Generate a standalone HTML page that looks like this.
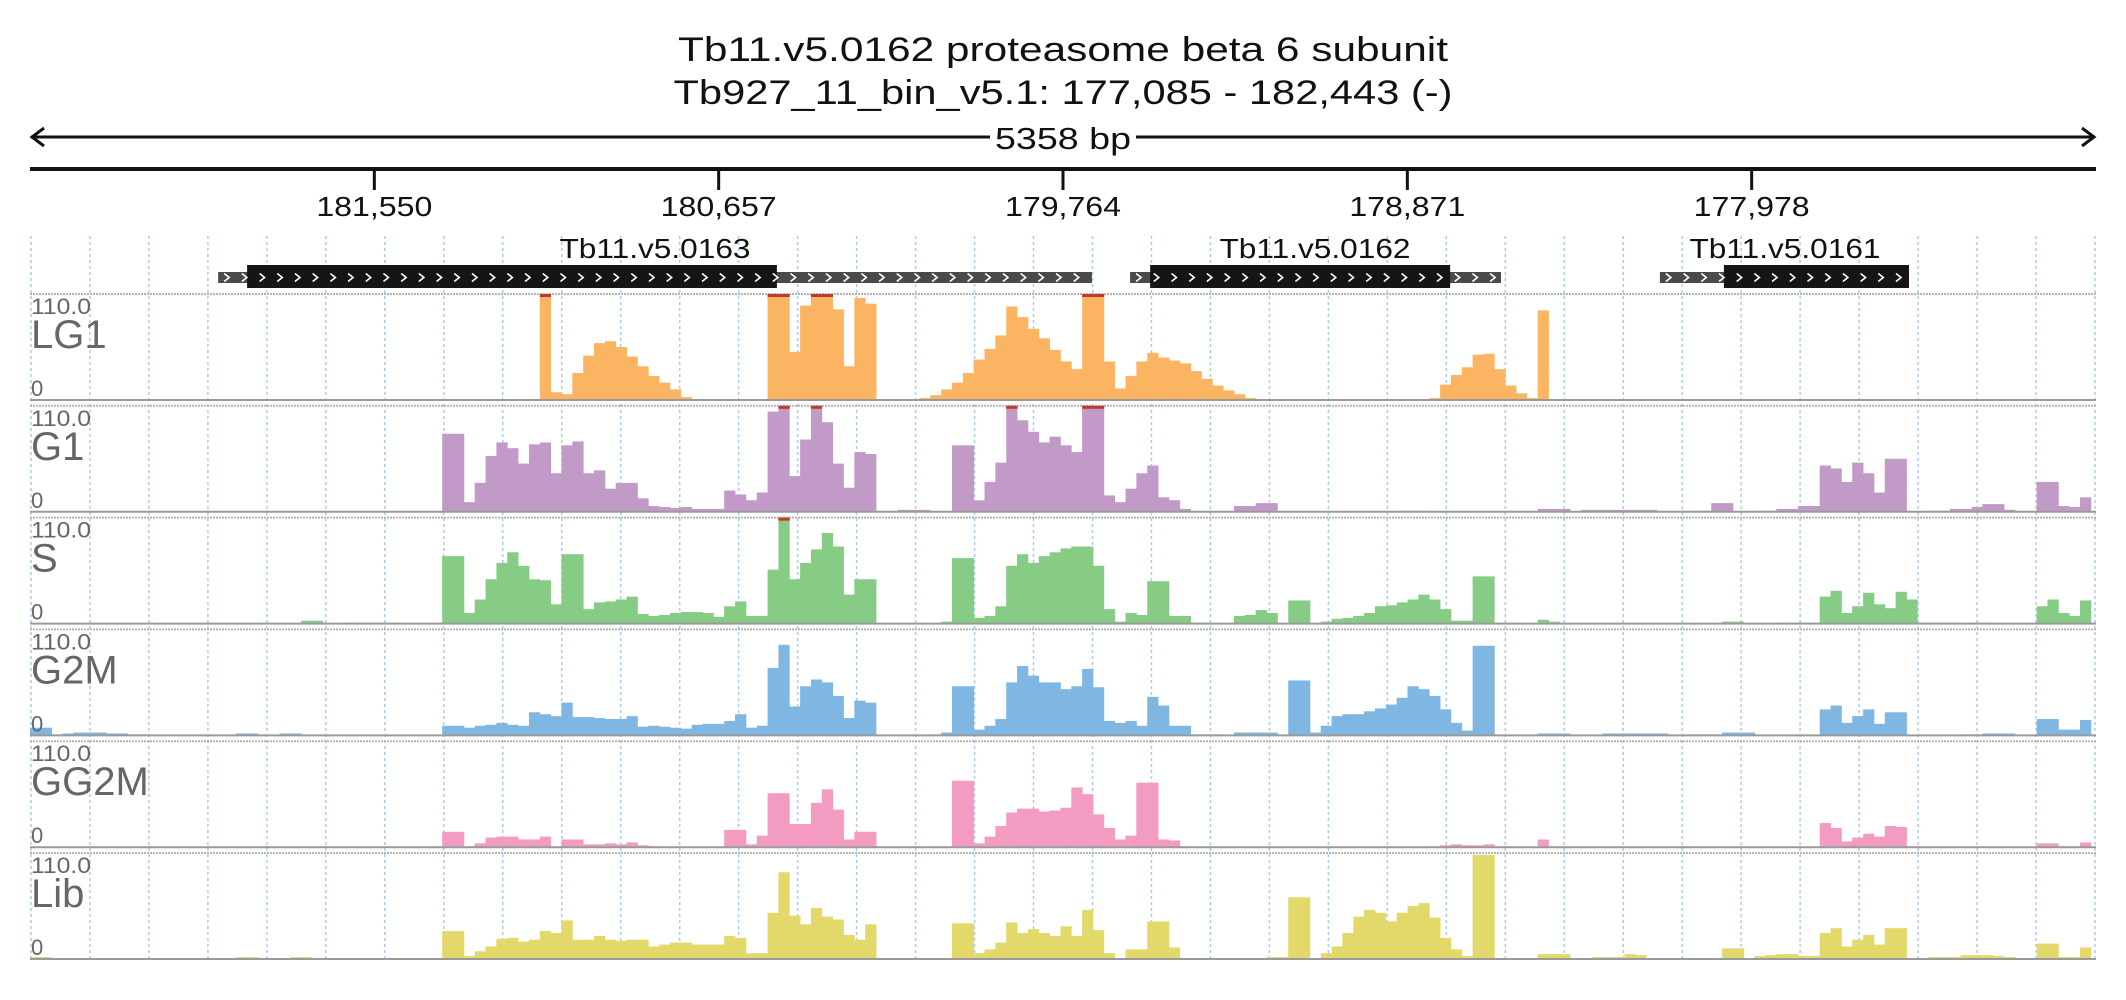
<!DOCTYPE html>
<html><head><meta charset="utf-8"><title>Tb11.v5.0162 coverage</title>
<style>
html,body{margin:0;padding:0;background:#fff;}
svg{display:block;font-family:"Liberation Sans",sans-serif;}
</style></head>
<body>
<svg id="chart" width="2126" height="1000" viewBox="0 0 2126 1000" xmlns="http://www.w3.org/2000/svg">
  <rect x="0" y="0" width="2126" height="1000" fill="#fff"/>
  <text x="1063" y="61" text-anchor="middle" font-size="34" textLength="770" lengthAdjust="spacingAndGlyphs" fill="#111">Tb11.v5.0162  proteasome beta 6 subunit</text>
  <text x="1063" y="104" text-anchor="middle" font-size="34" textLength="779" lengthAdjust="spacingAndGlyphs" fill="#111">Tb927_11_bin_v5.1: 177,085 - 182,443 (-)</text>
  <g>
    <line x1="31" y1="137" x2="2095" y2="137" stroke="#111" stroke-width="3"/>
    <polyline points="44,128 32,137 44,146" fill="none" stroke="#111" stroke-width="3"/>
    <polyline points="2082,128 2094,137 2082,146" fill="none" stroke="#111" stroke-width="3"/>
    <rect x="990" y="120" width="146" height="36" fill="#fff"/>
    <text x="1063" y="149" text-anchor="middle" font-size="31" textLength="136" lengthAdjust="spacingAndGlyphs" fill="#111">5358 bp</text>
  </g>
  <g id="axis"></g>
  <g id="grid"></g>
  <g id="genes"></g>
  <g id="tracks"></g>
</svg>
<script>
// ---- data ----
const winStart = 177085;
const winEnd = 182443;
const binBp = 28.13;
const tickBp = [181550, 180657, 179764, 178871, 177978];
const tickLabels = ["181,550", "180,657", "179,764", "178,871", "177,978"];
const trackNames = ["LG1", "G1", "S", "G2M", "GG2M", "Lib"];
const trackColors = ["#fbb562", "#c29ac8", "#86cc85", "#80b7e2", "#f49bc2", "#e3d96b"];
const yMax = 110;
const geneNames = ["Tb11.v5.0163", "Tb11.v5.0162", "Tb11.v5.0161"];
const geneStart = [181955, 179590, 178216];
const geneEnd = [179689, 178628, 177570];
const cdsStart = [181880, 179538, 178050];
const cdsEnd = [180506, 178760, 177570];

const lg1 = [
0,0,0,0,0,0,0,0,0,0, 0,0,0,0,0,0,0,0,0,0, 0,0,0,0,0,0,0,0,0,0, 0,0,0,0,0,0,0,0,0,0,
0,0,0,0,0,0,0,110,8,6, 28,46,59,61,55,45,35,25,18,11, 3,1,1,0,0,1,1,1,110,110,
50,98,110,110,94,35,106,100,0,0, 0,0,2,5,11,18,28,42,53,67, 97,86,74,64,52,40,32,110,110,40,
12,25,40,49,44,41,38,30,22,15, 10,6,2,1,0,0,0,0,0,0, 0,0,0,0,0,0,0,0,0,2,
16,26,34,47,48,32,15,7,2,93, 0,0,0,0,0,0,0,0,0,0, 0,0,0,0,0,0,0,0,0,0,
0,0,0,0,0,0,0,0,0,0, 0,0,0,0,0,0,0,0,0,0, 0,0,0,0,0,0,0,0,0,0];
const g1 = [
0,0,0,0,0,0,0,0,0,0, 0,0,0,0,0,0,0,0,0,0, 0,0,0,0,0,0,0,0,0,0, 0,0,0,0,0,0,0,0,81,81,
10,30,58,72,66,50,70,72,40,69, 73,40,43,24,30,30,14,6,5,4, 5,3,3,3,22,18,12,20,104,110,
37,75,110,93,50,25,62,60,0,0, 2,2,2,0,0,69,69,12,31,51, 110,95,83,72,78,69,62,110,110,17,
10,24,40,48,15,12,3,0,0,0, 0,6,6,9,9,0,0,0,0,0, 0,0,0,0,0,0,1,1,1,0,
0,0,0,0,0,0,0,0,0,3, 3,3,0,2,2,2,2,2,2,2, 0,0,1,1,1,9,9,0,0,1,
1,3,3,6,6,48,45,31,51,40, 20,55,55,0,0,1,1,3,3,5, 8,8,2,0,0,31,31,6,5,15];
const sPhase = [
0,0,0,0,0,0,0,0,0,0, 0,0,0,0,0,0,0,0,0,0, 0,0,0,0,0,3,3,0,0,1, 1,1,1,1,0,0,0,0,70,70,
11,25,46,63,74,60,46,45,20,72, 72,15,22,23,25,28,10,8,9,11, 12,12,11,7,18,23,8,8,56,110,
46,63,77,94,80,30,46,46,0,0, 0,0,0,0,2,68,68,6,8,18, 60,72,63,70,74,78,80,80,60,15,
2,11,9,44,44,8,8,1,1,0, 0,8,9,14,11,0,24,24,0,2, 5,6,8,11,18,19,22,25,30,25,
15,3,3,49,49,1,1,0,0,4, 2,0,0,0,0,0,0,0,0,0, 0,0,0,0,0,0,2,2,0,0,
0,1,1,1,1,28,34,11,18,32, 20,16,33,25,1,1,1,1,0,1, 1,0,0,0,0,18,25,11,8,24];
const g2m = [
8,8,1,2,3,3,3,2,2,1, 1,0,0,0,0,0,0,0,0,2, 2,0,0,2,2,0,0,0,0,0, 0,0,0,0,0,0,0,0,10,10,
8,10,11,13,11,10,24,22,20,34, 19,19,18,17,17,20,9,10,9,8, 7,11,12,12,15,22,8,10,70,94,
30,51,58,55,41,18,36,34,0,0, 0,0,0,1,3,51,51,6,10,17, 55,72,62,55,55,48,51,69,50,15,
13,15,10,40,31,10,10,1,1,1, 0,3,3,3,3,0,57,57,3,10, 20,22,22,25,28,32,39,51,48,41,
27,13,5,93,93,0,0,0,0,2, 2,2,0,0,0,2,2,2,2,2, 2,0,0,1,1,1,3,3,3,0,
0,0,0,0,0,27,31,13,20,27, 12,24,24,0,0,0,0,0,1,1, 2,2,2,0,0,17,17,6,6,16];
const gg2m = [
0,0,0,0,0,0,0,0,0,0, 0,0,0,0,0,0,0,0,0,0, 0,0,0,0,0,0,0,0,0,0, 0,0,0,0,0,0,0,0,16,16,
1,4,10,11,11,8,8,11,1,8, 8,3,3,4,3,5,2,1,0,0, 0,0,0,0,18,18,3,12,56,56,
24,24,46,60,39,8,16,16,0,0, 0,0,0,1,1,69,69,4,11,22, 36,40,40,37,38,41,62,55,34,20,
8,12,67,67,8,7,1,0,0,0, 0,0,0,0,0,0,0,0,0,0, 0,0,0,0,0,0,0,0,0,1,
2,3,2,2,3,1,0,0,0,8, 0,0,0,0,0,0,0,0,0,0, 0,0,0,0,0,0,0,0,0,0,
0,0,0,0,0,25,20,6,10,14, 11,22,21,0,0,0,0,0,0,0, 0,0,0,0,0,4,4,1,1,5];
const lib = [
2,2,0,0,0,0,0,1,1,1, 1,1,0,0,0,0,0,0,0,2, 2,0,0,0,2,2,0,0,0,0, 0,0,0,0,0,0,0,0,29,29,
3,8,13,21,22,18,20,29,27,40, 20,20,24,20,19,20,20,13,15,17, 17,15,15,15,24,22,6,6,48,90,
45,36,53,44,41,25,20,36,1,1, 1,1,1,1,1,37,37,6,10,17, 38,27,31,27,24,34,24,51,30,6,
1,10,10,39,39,12,1,1,1,1, 0,1,1,1,2,2,64,64,1,6, 13,27,44,51,48,39,48,55,58,43,
22,10,3,108,108,0,0,0,0,5, 5,5,0,0,2,2,2,5,4,1, 0,0,0,0,0,0,11,11,1,3,
4,5,5,3,3,27,32,13,20,25, 15,32,32,0,0,2,2,2,4,4, 4,3,2,0,0,16,16,2,2,12];
const trackValues = [lg1, g1, sPhase, g2m, gg2m, lib];

// ---- layout ----
const NS = "http://www.w3.org/2000/svg";
const plotL = 30, plotR = 2096;
function xScale(bp) { return plotL + (winEnd - bp) / (winEnd - winStart) * (plotR - plotL); }
const trackTop0 = 294, trackPitch = 111.8, trackH = 106;
function mk(tag, attrs, parent) {
  const e = document.createElementNS(NS, tag);
  for (const k in attrs) e.setAttribute(k, attrs[k]);
  parent.appendChild(e);
  return e;
}

// axis
const axis = document.getElementById('axis');
const axisLine = mk('line', {x1: plotL, y1: 169, x2: plotR, y2: 169, stroke: '#111', 'stroke-width': 4}, axis);


tickBp.forEach((bp, i) => {
  const x = xScale(bp);
  const t = mk('line', {x1: x, y1: 169, x2: x, y2: 190, stroke: '#111', 'stroke-width': 3}, axis);
  
  
  const lb = mk('text', {x: x, y: 216, 'text-anchor': 'middle', 'font-size': 28, textLength: 116, lengthAdjust: 'spacingAndGlyphs', fill: '#111'}, axis);
  lb.textContent = tickLabels[i];
  
  
});

// grid
const grid = document.getElementById('grid');
const nGrid = 35;
for (let i = 0; i <= nGrid; i++) {
  const x = plotL + 1 + i * (plotR - plotL - 2) / nGrid;
  const gl = mk('line', {x1: x, y1: 236, x2: x, y2: 962, stroke: '#a9cdef', 'stroke-width': 1.5, 'stroke-dasharray': '3,3'}, grid);
  
  
}

// genes
const genes = document.getElementById('genes');
function chevrons(x1, x2, yc, parent) {
  for (let x = x1 + 6; x < x2 - 6; x += 17.7) {
    const c = mk('polyline', {points: `${x},${yc-4} ${x+5},${yc} ${x},${yc+4}`, fill: 'none', stroke: '#fff', 'stroke-width': 1.6}, parent);
    
    
  }
}
geneNames.forEach((name, i) => {
  const g = mk('g', {}, genes);
  
  
  const gx1 = xScale(geneStart[i]), gx2 = xScale(geneEnd[i]);
  const cx1 = xScale(cdsStart[i]), cx2 = xScale(cdsEnd[i]);
  const utr = mk('rect', {x: gx1, y: 272, width: gx2 - gx1, height: 11, fill: '#4a4a4a'}, g);
  
  
  const cds = mk('rect', {x: cx1, y: 265, width: cx2 - cx1, height: 23, fill: '#151515'}, g);
  
  
  chevrons(gx1, gx2, 277.5, g);
  const lbl = mk('text', {x: (i === 0 ? 655 : i === 1 ? 1315 : 1785), y: 258, 'text-anchor': 'middle', 'font-size': 28, textLength: 191, lengthAdjust: 'spacingAndGlyphs', fill: '#111'}, g);
  lbl.textContent = name;
  
  
});

// tracks
const tracks = document.getElementById('tracks');
trackNames.forEach((name, k) => {
  const top = trackTop0 + k * trackPitch;
  const base = top + trackH;
  const g = mk('g', {}, tracks);
  
  
  const tl = mk('line', {x1: plotL, y1: top, x2: plotR, y2: top, stroke: '#b5b5b5', 'stroke-width': 2, 'stroke-dasharray': '2,1'}, g);
  
  
  const vals = trackValues[k];
  const yS = v => base - Math.min(v, yMax) / yMax * trackH;
  vals.forEach((v, i) => {
    if (v <= 0) return;
    const bp1 = winEnd - i * binBp, bp2 = winEnd - (i + 1) * binBp;
    const x1 = xScale(bp1), x2 = Math.min(xScale(bp2), plotR);
    const r = mk('rect', {x: x1, y: yS(v), width: x2 - x1 + 0.4, height: base - yS(v), fill: trackColors[k]}, g);
    
    
    if (v >= yMax) {
      const cap = mk('rect', {x: x1, y: top, width: x2 - x1 + 0.4, height: 3, fill: '#c0392b'}, g);
      
      
    }
  });
  const bl = mk('line', {x1: plotL, y1: base, x2: plotR, y2: base, stroke: '#9a9a9a', 'stroke-width': 2}, g);
  
  
  const mx = mk('text', {x: 31, y: top + 20, 'font-size': 22, fill: '#666', textLength: 60, lengthAdjust: 'spacingAndGlyphs'}, g);
  mx.textContent = '110.0';
  
  
  const zr = mk('text', {x: 31, y: base - 4, 'font-size': 22, fill: '#666'}, g);
  zr.textContent = '0';
  
  
  const nm = mk('text', {x: 31, y: top + 54, 'font-size': 40, fill: '#666'}, g);
  nm.textContent = name;
  
  
});
</script>
</body></html>
